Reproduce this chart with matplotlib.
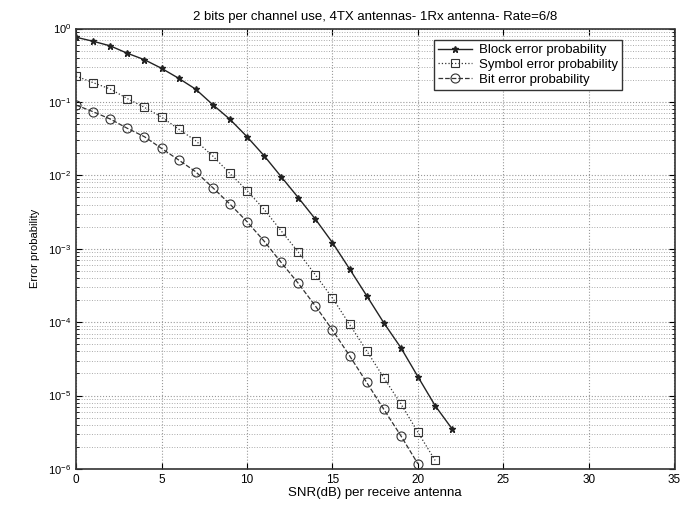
import numpy as np
import matplotlib
matplotlib.use("Agg")
import matplotlib.pyplot as plt
from matplotlib.ticker import LogLocator, NullFormatter

plt.rcParams['font.family'] = ['Liberation Sans', 'DejaVu Sans']
plt.rcParams['mathtext.default'] = 'regular'

# SNR points (dB) and measured error rates for each curve
snr_block = list(range(0, 23))
block_err = [0.76, 0.67, 0.58, 0.46, 0.376, 0.287, 0.21, 0.149, 0.0916, 0.058,
             0.0336, 0.0185, 0.00957, 0.00496, 0.00253, 0.00121, 5.3e-4, 2.29e-4,
             9.8e-5, 4.48e-5, 1.8e-5, 7.3e-6, 3.5e-6]

snr_symbol = list(range(0, 22))
symbol_err = [0.225, 0.183, 0.15, 0.111, 0.0844, 0.0622, 0.0427, 0.0296, 0.0183,
              0.0106, 0.0062, 0.00344, 0.00175, 9.0e-4, 4.4e-4, 2.13e-4, 9.3e-5,
              4.07e-5, 1.75e-5, 7.7e-6, 3.15e-6, 1.31e-6]

snr_bit = list(range(0, 21))
bit_err = [0.0907, 0.0735, 0.0585, 0.0437, 0.0336, 0.0233, 0.0162, 0.0112, 0.00678,
           0.00406, 0.00234, 0.00127, 6.5e-4, 3.38e-4, 1.66e-4, 7.8e-5, 3.48e-5,
           1.51e-5, 6.5e-6, 2.83e-6, 1.17e-6]

fig = plt.figure(figsize=(6.83, 5.08), dpi=100)
ax = fig.add_axes([76/683, 1 - 469/508, 598.5/683, 440.5/508])

ax.semilogy(snr_block, block_err, '-', color='#222222', lw=1.0, marker='*',
            ms=4.5, mfc='#222222', mec='#222222', label='Block error probability')
ax.semilogy(snr_symbol, symbol_err, ':', color='#333333', lw=0.9, marker='s',
            ms=6, mfc='none', mec='#333333', mew=0.8, label='Symbol error probability')
ax.semilogy(snr_bit, bit_err, '--', color='#333333', lw=0.9, marker='o',
            ms=6.5, mfc='none', mec='#333333', mew=0.8, label='Bit error probability')

ax.set_xlim(0, 35)
ax.set_ylim(1e-6, 1)
ax.set_xticks(range(0, 36, 5))
ax.yaxis.set_major_locator(LogLocator(base=10, numticks=10))
ax.yaxis.set_minor_locator(LogLocator(base=10, subs=np.arange(2, 10), numticks=20))
ax.yaxis.set_minor_formatter(NullFormatter())

ax.grid(True, which='major', ls=':', color='#999999', lw=0.8)
ax.grid(True, which='minor', axis='y', ls=':', color='#aaaaaa', lw=0.7)
ax.tick_params(which='both', direction='in', top=True, right=True, labelsize=8)
ax.tick_params(axis='x', labelsize=8.5)
ax.tick_params(which='major', length=4)
ax.tick_params(which='minor', length=2)
for s in ax.spines.values():
    s.set_linewidth(1.2)
    s.set_color('#333333')

ax.set_title('2 bits per channel use, 4TX antennas- 1Rx antenna- Rate=6/8', fontsize=9.5, pad=6)
ax.set_xlabel('SNR(dB) per receive antenna', fontsize=9.5, labelpad=1)
ax.set_ylabel('Error probability', fontsize=8, labelpad=6)

leg = ax.legend(loc='upper right', bbox_to_anchor=(0.912, 0.974), fontsize=9.5,
                frameon=True, fancybox=False, edgecolor='#333333', framealpha=1,
                borderpad=0.3, labelspacing=0.2, handlelength=2.6, handletextpad=0.5,
                borderaxespad=0)
leg.get_frame().set_linewidth(1.0)

fig.savefig('out.png', dpi=100)
